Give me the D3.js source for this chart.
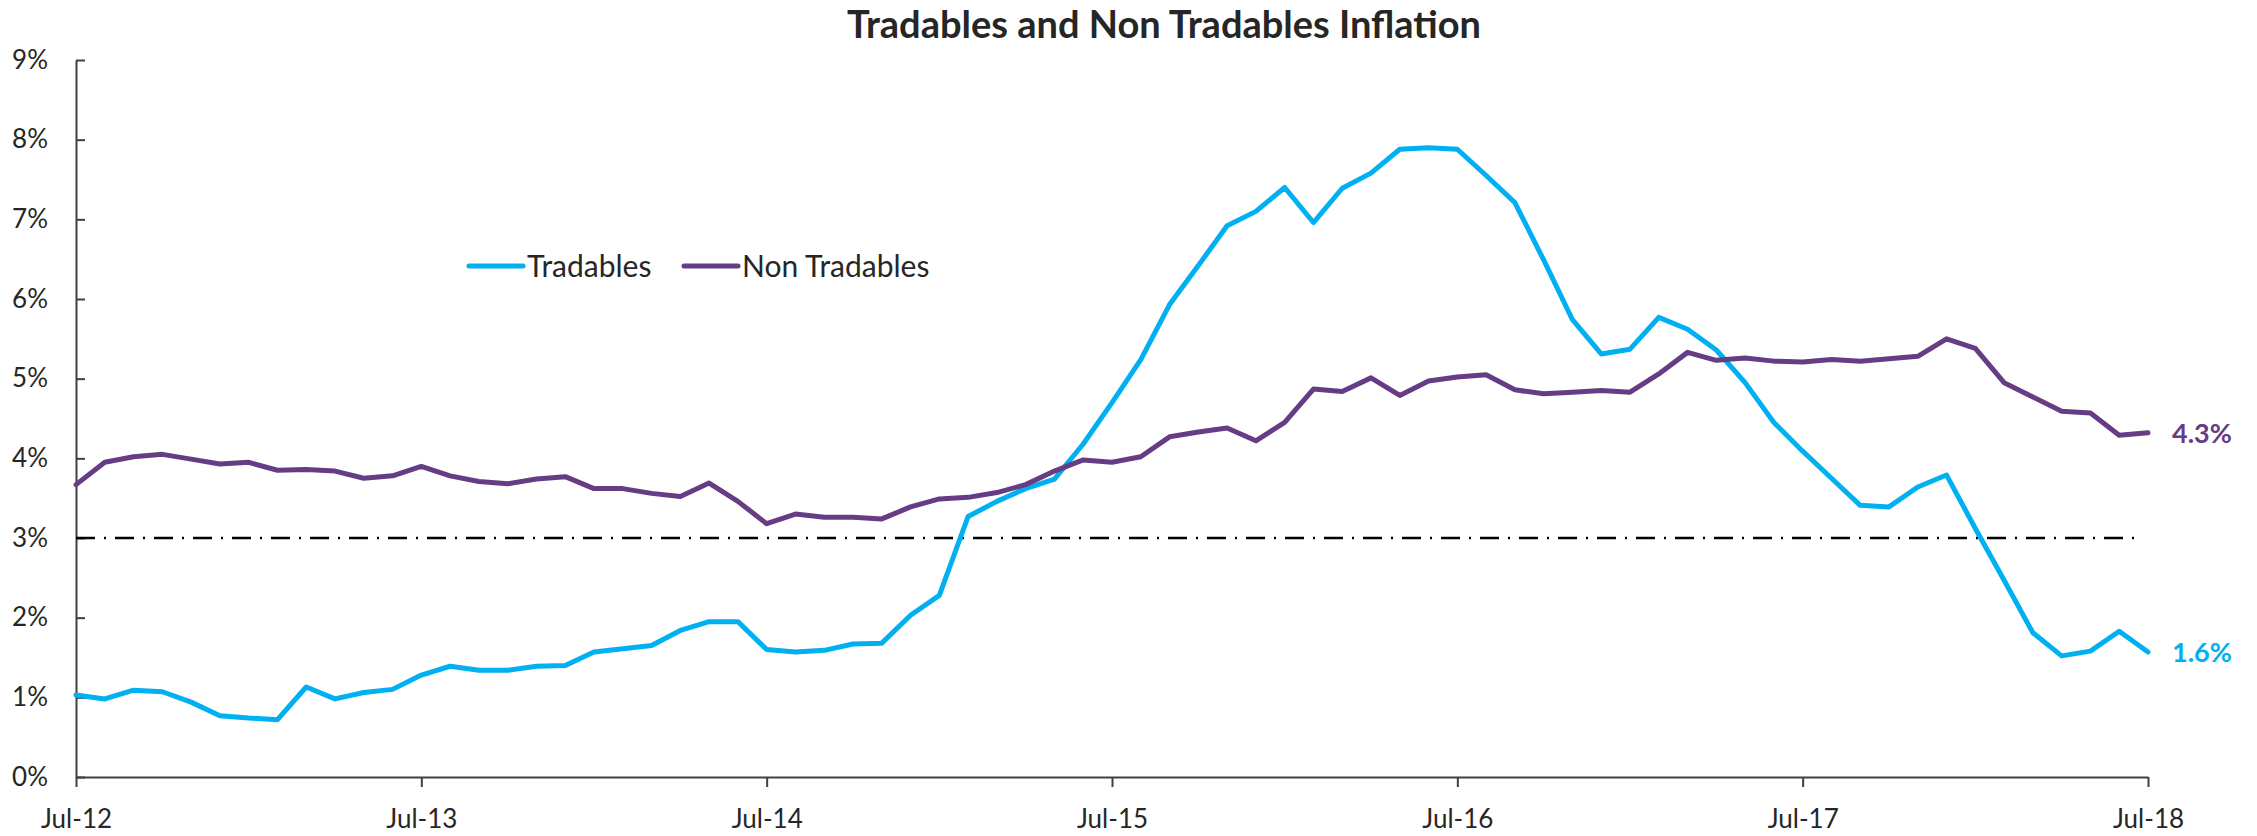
<!DOCTYPE html>
<html>
<head>
<meta charset="utf-8">
<script src="https://cdn.jsdelivr.net/npm/d3@7"></script>
<style>
  body { margin: 0; background: #fff; }
  svg text { font-family: Lato, "Liberation Sans", sans-serif; fill: #262626; }
</style>
</head>
<body>
<div id="chart"></div>
<script>
// monthly, Jul-12 .. Jul-18
var months = [
    "Jul-12", "Aug-12", "Sep-12", "Oct-12", "Nov-12", "Dec-12",
    "Jan-13", "Feb-13", "Mar-13", "Apr-13", "May-13", "Jun-13", "Jul-13", "Aug-13", "Sep-13", "Oct-13", "Nov-13", "Dec-13",
    "Jan-14", "Feb-14", "Mar-14", "Apr-14", "May-14", "Jun-14", "Jul-14", "Aug-14", "Sep-14", "Oct-14", "Nov-14", "Dec-14",
    "Jan-15", "Feb-15", "Mar-15", "Apr-15", "May-15", "Jun-15", "Jul-15", "Aug-15", "Sep-15", "Oct-15", "Nov-15", "Dec-15",
    "Jan-16", "Feb-16", "Mar-16", "Apr-16", "May-16", "Jun-16", "Jul-16", "Aug-16", "Sep-16", "Oct-16", "Nov-16", "Dec-16",
    "Jan-17", "Feb-17", "Mar-17", "Apr-17", "May-17", "Jun-17", "Jul-17", "Aug-17", "Sep-17", "Oct-17", "Nov-17", "Dec-17",
    "Jan-18", "Feb-18", "Mar-18", "Apr-18", "May-18", "Jun-18", "Jul-18"
];

var tradables = [
    1.03, 0.98, 1.09, 1.07, 0.94, 0.77,
    0.74, 0.72, 1.13, 0.98, 1.06, 1.10, 1.28, 1.39, 1.34, 1.34, 1.39, 1.40,
    1.57, 1.61, 1.65, 1.84, 1.95, 1.95, 1.60, 1.57, 1.59, 1.67, 1.68, 2.03,
    2.28, 3.27, 3.46, 3.62, 3.74, 4.18, 4.70, 5.24, 5.93, 6.42, 6.92, 7.10,
    7.40, 6.96, 7.39, 7.58, 7.88, 7.90, 7.88, 7.55, 7.21, 6.49, 5.74, 5.31,
    5.37, 5.77, 5.62, 5.36, 4.95, 4.45, 4.09, 3.75, 3.41, 3.39, 3.64, 3.79,
    3.12, 2.47, 1.81, 1.52, 1.58, 1.83, 1.57
];

var nonTradables = [
    3.67, 3.95, 4.02, 4.05, 3.99, 3.93,
    3.95, 3.85, 3.86, 3.84, 3.75, 3.78, 3.90, 3.78, 3.71, 3.68, 3.74, 3.77,
    3.62, 3.62, 3.56, 3.52, 3.69, 3.46, 3.18, 3.30, 3.26, 3.26, 3.24, 3.39,
    3.49, 3.51, 3.57, 3.67, 3.84, 3.98, 3.95, 4.02, 4.27, 4.33, 4.38, 4.22,
    4.45, 4.87, 4.84, 5.01, 4.79, 4.97, 5.02, 5.05, 4.86, 4.81, 4.83, 4.85,
    4.83, 5.06, 5.33, 5.23, 5.26, 5.22, 5.21, 5.24, 5.22, 5.25, 5.28, 5.50,
    5.38, 4.95, 4.77, 4.59, 4.57, 4.29, 4.32
];

var target = 3;
var xTicks = ["Jul-12", "Jul-13", "Jul-14", "Jul-15", "Jul-16", "Jul-17", "Jul-18"];
var yTicks = [0, 1, 2, 3, 4, 5, 6, 7, 8, 9];

var series = [
    { name: "Tradables", values: tradables, color: "#00b0f0" },
    { name: "Non Tradables", values: nonTradables, color: "#663c85" }
];

var width = 2257,
    height = 836,
    margin = { top: 60, right: 109, bottom: 59, left: 76 };

var svg = d3.select("#chart")
    .append("svg")
    .attr("width", width)
    .attr("height", height);

var x = d3.scalePoint()
    .domain(months)
    .range([margin.left, width - margin.right]);

var y = d3.scaleLinear()
    .domain([0, 9])
    .range([height - margin.bottom, margin.top]);

// title
svg.append("text")
    .attr("x", 1164)
    .attr("y", 38)
    .attr("text-anchor", "middle")
    .attr("font-size", 38)
    .attr("font-weight", "bold")
    .text("Tradables and Non Tradables Inflation");

// y axis, ticks point inwards
var yAxis = svg.append("g")
    .attr("transform", "translate(" + margin.left + ",0)")
    .call(d3.axisLeft(y)
        .tickValues(yTicks)
        .tickSizeInner(-9)
        .tickSizeOuter(0)
        .tickPadding(28)
        .tickFormat(function(d) { return d + "%"; }));

// x axis
var xAxis = svg.append("g")
    .attr("transform", "translate(0," + y(0) + ")")
    .call(d3.axisBottom(x)
        .tickValues(xTicks)
        .tickSizeInner(10)
        .tickSizeOuter(0)
        .tickPadding(23));

[yAxis, xAxis].forEach(function(a) {
    a.selectAll("path, line").attr("stroke", "#404040").attr("stroke-width", 2);
    a.selectAll("text").attr("font-size", 26).attr("fill", "#262626");
});

// inflation target
svg.append("line")
    .attr("x1", x(months[0]))
    .attr("x2", x(months[months.length - 1]) - 5)
    .attr("y1", y(target))
    .attr("y2", y(target))
    .attr("stroke", "#000")
    .attr("stroke-width", 2.5)
    .attr("stroke-dasharray", "19,9,2,9");

var line = d3.line()
    .x(function(d, i) { return x(months[i]); })
    .y(function(d) { return y(d); });

svg.selectAll(".curve")
    .data(series)
    .enter().append("path")
        .attr("class", "curve")
        .attr("fill", "none")
        .attr("stroke", function(d) { return d.color; })
        .attr("stroke-width", 5)
        .attr("stroke-linejoin", "round")
        .attr("stroke-linecap", "round")
        .attr("d", function(d) { return line(d.values); });

// last value labels
var last = months.length - 1;
svg.selectAll(".end-label")
    .data(series)
    .enter().append("text")
        .attr("class", "end-label")
        .attr("x", x(months[last]) + 24)
        .attr("y", function(d) { return y(d.values[last]); })
        .attr("dy", "0.36em")
        .attr("font-size", 27)
        .attr("font-weight", "bold")
        .style("fill", function(d) { return d.color; })
        .text(function(d) { return d3.format(".1f")(d.values[last]) + "%"; });

// legend
var legendX = [469, 684];
var legend = svg.selectAll(".legend")
    .data(series)
    .enter().append("g")
        .attr("class", "legend")
        .attr("transform", function(d, i) { return "translate(" + legendX[i] + ",266)"; });

legend.append("line")
    .attr("x1", 0)
    .attr("x2", 54)
    .attr("stroke", function(d) { return d.color; })
    .attr("stroke-width", 5)
    .attr("stroke-linecap", "round");

legend.append("text")
    .attr("x", 58)
    .attr("dy", "0.36em")
    .attr("font-size", 30)
    .text(function(d) { return d.name; });
</script>
</body>
</html>
